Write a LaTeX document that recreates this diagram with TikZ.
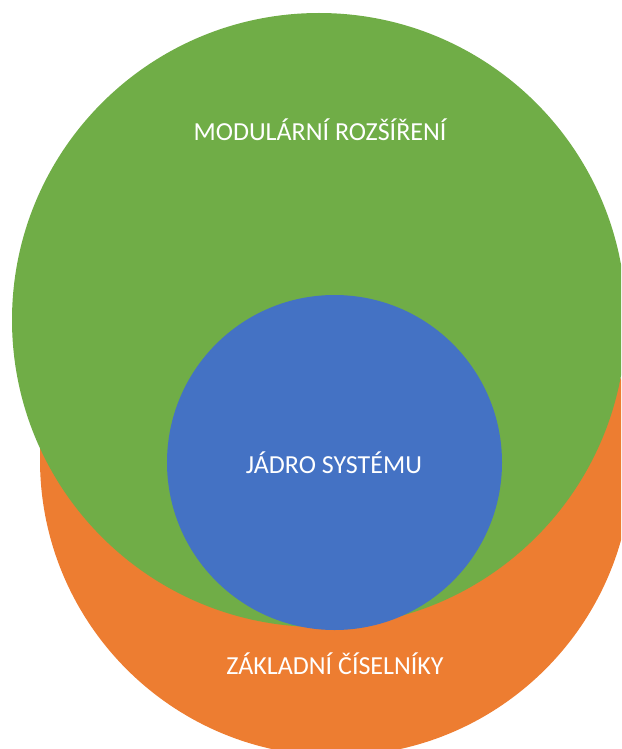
\documentclass[tikz,border=0pt]{standalone}
\usepackage{fontspec}
\setmainfont{Carlito}
\definecolor{offgreen}{HTML}{70AD47}
\definecolor{offorange}{HTML}{ED7D31}
\definecolor{offblue}{HTML}{4472C4}
\begin{document}
\begin{tikzpicture}[x=1pt,y=-1pt,
  lbl/.style={text=white,font=\fontsize{26}{30}\selectfont,inner sep=0pt}]
\useasboundingbox (0,0) rectangle (621,749);
\begin{scope}
\clip (0,0) rectangle (621,749);
\fill[offorange] (336,460) circle[radius=296];
\fill[offgreen] (319,320) circle[radius=307];
\fill[offblue] (334.5,462.5) circle[radius=167.5];
\end{scope}
\node[lbl] (ext) at (320,130) {MODULÁRNÍ ROZŠÍŘENÍ};
\node[lbl] (core) at (334,463) {JÁDRO SYSTÉMU};
\node[lbl] (enum) at (335,664) {ZÁKLADNÍ ČÍSELNÍKY};
\end{tikzpicture}
\end{document}
